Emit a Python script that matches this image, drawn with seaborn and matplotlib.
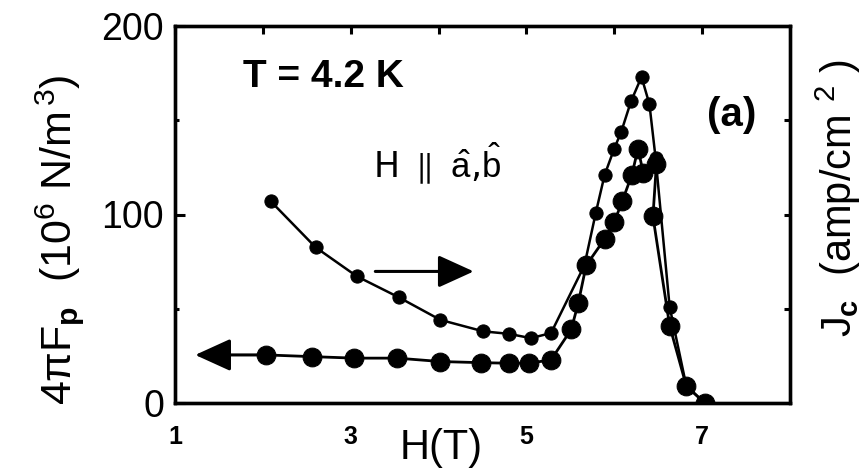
import matplotlib
matplotlib.use("Agg")
import matplotlib.pyplot as plt
import seaborn as sns
import pandas as pd
from matplotlib.ticker import FixedLocator

# ---- data ----
# lower curve: pinning force 4*pi*Fp (left axis), large dots
fp_field = [2.04, 2.56, 3.04, 3.53, 4.02, 4.48, 4.80, 5.03, 5.28, 5.51, 5.59, 5.68,
            5.89, 6.00, 6.09, 6.20, 6.27, 6.33, 6.48, 6.44, 6.63, 6.82, 7.03]
fp_value = [25.5, 24.6, 23.8, 23.8, 22.0, 21.4, 21.1, 21.1, 22.9, 39.0, 53.0, 73.0,
            87.0, 96.0, 107.0, 121.0, 135.0, 122.0, 127.0, 99.0, 41.0, 9.0, 0.0]
# upper curve: critical current Jc (right axis), small dots
jc_field = [2.09, 2.60, 3.07, 3.55, 4.02, 4.51, 4.80, 5.05, 5.28, 5.66, 5.79, 5.89,
            6.00, 6.08, 6.19, 6.31, 6.40, 6.47, 6.63, 6.82, 7.03]
jc_value = [107.0, 82.6, 67.2, 56.0, 44.1, 38.0, 36.7, 34.4, 37.1, 73.0, 101.0, 121.0,
            135.0, 144.0, 160.0, 173.0, 158.5, 130.0, 51.0, 9.0, 0.0]

x_ticks = [1, 2, 3, 4, 5, 6, 7]
x_tick_labels = ["1", "", "3", "", "5", "", "7"]
y_major = [0, 100, 200]
y_major_labels = ["0", "100", "200"]
y_minor = [50, 150]
right_ticks = [50, 100, 150]

# arrow annotations (tail -> head), data units
fp_arrow = [(2.0, 25.5), (1.23, 25.5)]
jc_arrow = [(3.28, 69.8), (4.40, 69.8)]

fp_df = pd.DataFrame({"H": fp_field, "F": fp_value})
jc_df = pd.DataFrame({"H": jc_field, "J": jc_value})

sns.set_theme(style="white")
plt.rcParams["font.family"] = ["Liberation Sans", "DejaVu Sans"]
plt.rcParams["mathtext.fontset"] = "custom"
plt.rcParams["mathtext.rm"] = "Liberation Sans"
plt.rcParams["mathtext.it"] = "Liberation Sans"
plt.rcParams["mathtext.bf"] = "Liberation Sans:bold"
for k in ["text.color", "axes.labelcolor", "xtick.color", "ytick.color", "axes.edgecolor"]:
    plt.rcParams[k] = "black"

W, H = 866, 474
fig = plt.figure(figsize=(W / 100, H / 100), dpi=100)
ax = fig.add_axes([175 / W, 1 - 403 / H, (790 - 175) / W, (403 - 26) / H])
ax2 = ax.twinx()

sns.lineplot(data=fp_df, x="H", y="F", ax=ax, sort=False, estimator=None,
             color="black", lw=2.0, marker="o", markersize=13.5,
             markeredgecolor="black", markerfacecolor="black")
sns.lineplot(data=jc_df, x="H", y="J", ax=ax2, sort=False, estimator=None,
             color="black", lw=1.8, marker="o", markersize=9.5,
             markeredgecolor="black", markerfacecolor="black")

for a in (ax, ax2):
    a.set_xlim(1, 8)
    a.set_ylim(0, 200)
    a.set_xlabel("")
    a.set_ylabel("")
    for s in a.spines.values():
        s.set_linewidth(2.4)
        s.set_color("black")

ax.set_xticks(x_ticks)
ax.set_xticklabels(x_tick_labels, fontsize=18, fontweight="bold")
ax.set_yticks(y_major)
ax.set_yticklabels(y_major_labels, fontsize=27)
ax.yaxis.set_minor_locator(FixedLocator(y_minor))
ax.tick_params(axis="x", direction="in", length=6, width=2.2, top=True, pad=16)
ax.tick_params(axis="y", which="major", direction="in", length=7, width=2.2, pad=8, right=False)
ax.tick_params(axis="y", which="minor", direction="in", length=3, width=2.2, right=False)

ax2.set_yticks(right_ticks)
ax2.set_yticklabels([])
ax2.tick_params(axis="y", direction="in", length=4, width=2.2)

# axis labels (placed in figure pixels)
fig.text(59 / W, 1 - 240 / H, r"$4\pi F_{\mathbf{p}}$  $(10^{6}$ $\mathrm{N/m}^{\,3})$",
         fontsize=31, rotation=90, ha="center", va="center")
fig.text(838 / W, 1 - 198 / H, r"$J_{\mathbf{c}}$  (amp/cm $^{2}$ )",
         fontsize=30, rotation=90, ha="center", va="center")
ax.text(4.03, -24, "H(T)", fontsize=30, ha="center", va="center", clip_on=False)

# annotations
ax.text(1.77, 173, "T = 4.2 K", fontsize=28, fontweight="bold", ha="left", va="center")
ax.text(7.34, 153, "(a)", fontsize=29, fontweight="bold", ha="center", va="center")
ax.text(3.25, 120, r"H $\parallel$ $\hat{a}$,$\hat{b}$", fontsize=25, ha="left", va="baseline",
        family=["DejaVu Sans"])

ax.annotate("", xy=fp_arrow[1], xytext=fp_arrow[0],
            arrowprops=dict(arrowstyle="-|>,head_length=1.1,head_width=0.5",
                            color="black", lw=2.2, mutation_scale=20, shrinkA=0, shrinkB=0))
ax.annotate("", xy=jc_arrow[1], xytext=jc_arrow[0],
            arrowprops=dict(arrowstyle="-|>,head_length=1.1,head_width=0.5",
                            color="black", lw=2.2, mutation_scale=20, shrinkA=0, shrinkB=0))

fig.savefig("out.png", dpi=100)
